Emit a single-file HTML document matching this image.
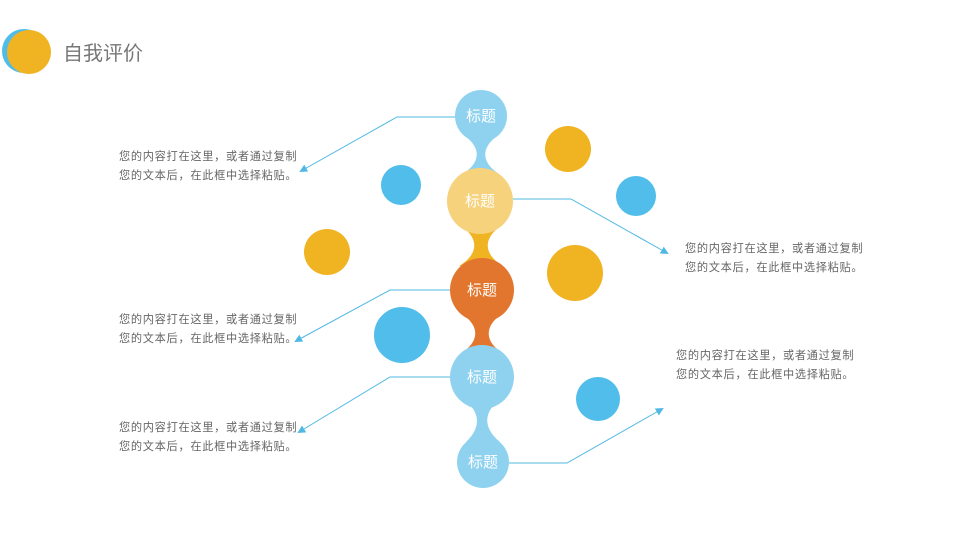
<!DOCTYPE html>
<html><head><meta charset="utf-8"><style>
body{margin:0;width:960px;height:540px;background:#fff;overflow:hidden;position:relative;font-family:"Liberation Sans","Noto Sans CJK SC",sans-serif}
.t{position:absolute;font-size:11.2px;line-height:19px;color:#666;white-space:nowrap;letter-spacing:0.7px}
</style></head><body>
<svg width="960" height="540" style="position:absolute;left:0;top:0">
<defs><marker id="a" markerWidth="8" markerHeight="8" refX="6" refY="4" orient="auto" markerUnits="userSpaceOnUse"><path d="M0,0 L8,4 L0,8z" fill="#4fb8e3"/></marker></defs>
<circle cx="24" cy="51" r="22" fill="#4fbde8"/>
<circle cx="29" cy="52" r="22" fill="#f0b322"/>
<circle cx="401" cy="185" r="20" fill="#50bdea"/>
<circle cx="568" cy="149" r="23" fill="#f0b322"/>
<circle cx="636" cy="196" r="20" fill="#50bdea"/>
<circle cx="327" cy="252" r="23" fill="#f0b322"/>
<circle cx="575" cy="273" r="28" fill="#f0b322"/>
<circle cx="402" cy="335" r="28" fill="#50bdea"/>
<circle cx="598" cy="399" r="22" fill="#50bdea"/>
<g fill="none" stroke="#4fb8e3" stroke-width="1">
<polyline points="455,117 397,117 301,171" marker-end="url(#a)"/>
<polyline points="513,199 571,199 667,253" marker-end="url(#a)"/>
<polyline points="450,290 390,290 296,341" marker-end="url(#a)"/>
<polyline points="450,377 390,377 299,432" marker-end="url(#a)"/>
<polyline points="509,463 567,463 662,409" marker-end="url(#a)"/>
</g>
<path d="M465,136 C481,148 481,162 463,174 L499,174 C481,162 481,148 497,136Z" fill="#8fd2ef"/>
<path d="M461,226 C479,238 479,254 459,266 L503,266 C483,254 483,238 501,226Z" fill="#f0b322"/>
<path d="M462,314 C480,326 480,342 460,354 L504,354 C484,342 484,326 502,314Z" fill="#e2762e"/>
<path d="M464,400 C481,412 481,428 466,442 L500,442 C483,428 483,412 500,400Z" fill="#8fd2ef"/>
<circle cx="481" cy="116" r="26" fill="#8fd2ef"/>
<circle cx="480" cy="201" r="33" fill="#f6d27c"/>
<circle cx="482" cy="290" r="32" fill="#e2762e"/>
<circle cx="482" cy="377" r="32" fill="#8fd2ef"/>
<circle cx="483" cy="462" r="26" fill="#8fd2ef"/>
<g fill="#fff" font-size="15" text-anchor="middle" font-family="Liberation Sans, Noto Sans CJK SC, sans-serif">
<text x="481" y="121">标题</text>
<text x="480" y="206">标题</text>
<text x="482" y="295">标题</text>
<text x="482" y="382">标题</text>
<text x="483" y="467">标题</text>
</g>
<text x="63" y="60" font-size="20" fill="#777" font-family="Liberation Sans, Noto Sans CJK SC, sans-serif">自我评价</text>
</svg>
<div class="t" style="left:119px;top:148px">您的内容打在这里，或者通过复制<br>您的文本后，在此框中选择粘贴。</div>
<div class="t" style="left:119px;top:311px">您的内容打在这里，或者通过复制<br>您的文本后，在此框中选择粘贴。</div>
<div class="t" style="left:119px;top:419px">您的内容打在这里，或者通过复制<br>您的文本后，在此框中选择粘贴。</div>
<div class="t" style="left:685px;top:240px">您的内容打在这里，或者通过复制<br>您的文本后，在此框中选择粘贴。</div>
<div class="t" style="left:676px;top:347px">您的内容打在这里，或者通过复制<br>您的文本后，在此框中选择粘贴。</div>
</body></html>
